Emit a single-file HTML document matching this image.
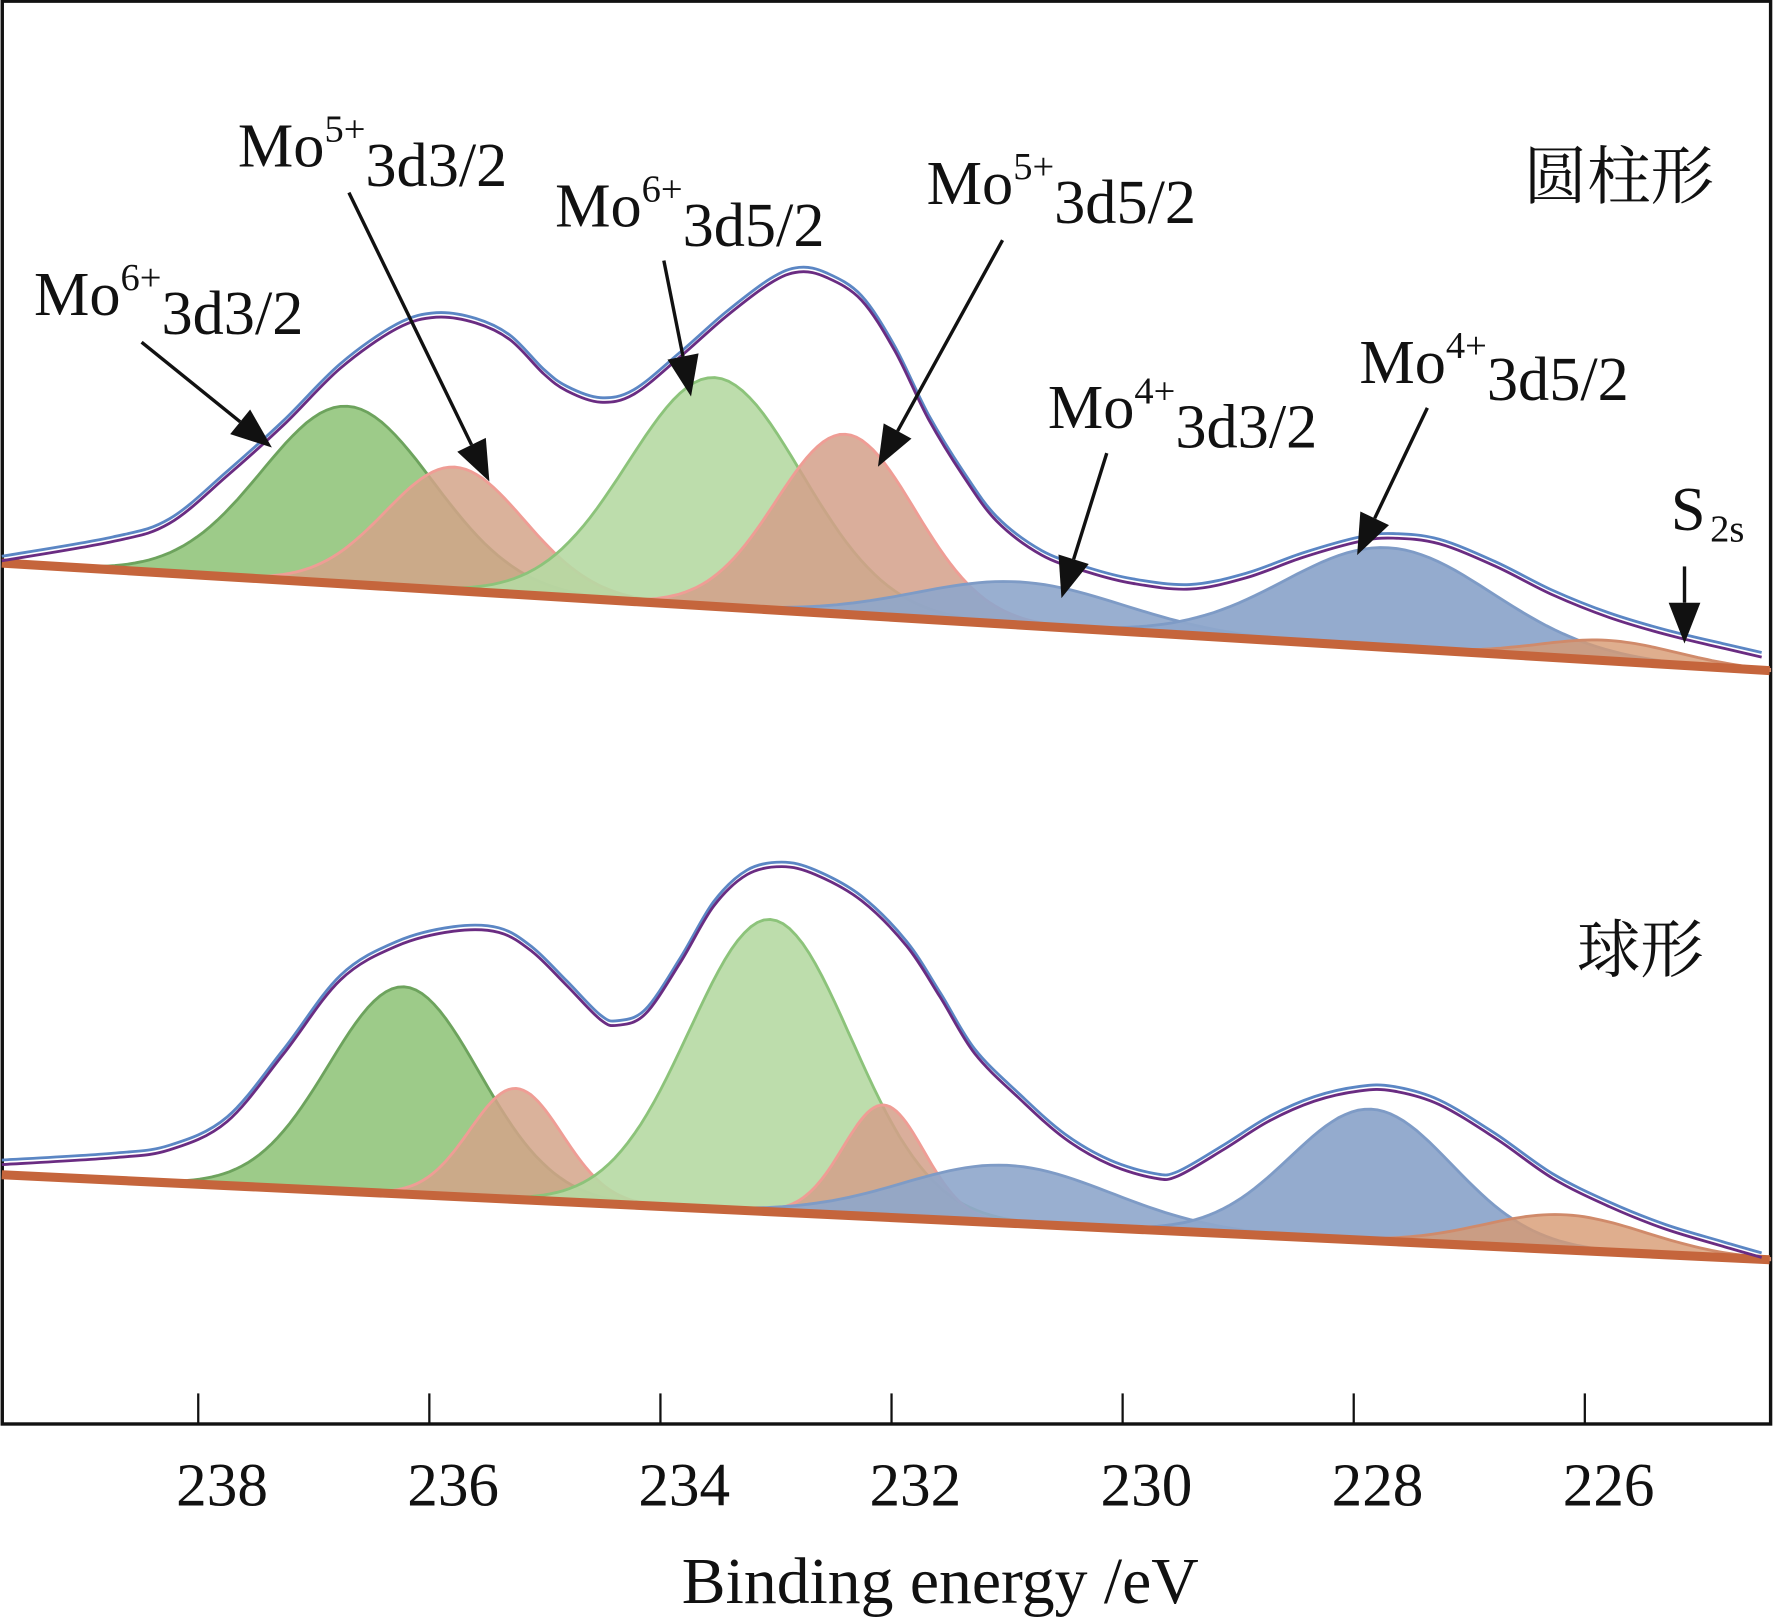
<!DOCTYPE html>
<html><head><meta charset="utf-8"><style>
html,body{margin:0;padding:0;background:#fff}
svg{display:block}
text{font-family:"Liberation Serif","Noto Serif CJK SC",serif;fill:#111}
</style></head><body>
<svg id="chart" width="1774" height="1620" viewBox="0 0 1566 1430" xmlns="http://www.w3.org/2000/svg">
<rect x="2" y="1" width="1561" height="1256" fill="none" stroke="#111" stroke-width="3"/>
<g id="marks"></g>
<g id="axis"></g>
<g id="labels">
<g><text x="30" y="278" font-size="55">Mo<tspan dy="-22" font-size="34">6+</tspan><tspan dy="39" font-size="55">3d3/2</tspan></text></g>
<g><text x="210" y="147" font-size="55">Mo<tspan dy="-22" font-size="34">5+</tspan><tspan dy="39" font-size="55">3d3/2</tspan></text></g>
<g><text x="490" y="200" font-size="55">Mo<tspan dy="-22" font-size="34">6+</tspan><tspan dy="39" font-size="55">3d5/2</tspan></text></g>
<g><text x="818" y="180" font-size="55">Mo<tspan dy="-22" font-size="34">5+</tspan><tspan dy="39" font-size="55">3d5/2</tspan></text></g>
<g><text x="925" y="378" font-size="55">Mo<tspan dy="-22" font-size="34">4+</tspan><tspan dy="39" font-size="55">3d3/2</tspan></text></g>
<g><text x="1200" y="338" font-size="55">Mo<tspan dy="-22" font-size="34">4+</tspan><tspan dy="37" font-size="55">3d5/2</tspan></text></g>
<g><text x="1475" y="468" font-size="55">S<tspan dx="4" dy="10" font-size="34">2s</tspan></text></g>
<text x="1345" y="175" font-size="56">圆柱形</text>
<text x="1392" y="858" font-size="56">球形</text>
</g>
<text x="830" y="1415" font-size="58" text-anchor="middle">Binding energy /eV</text>
</svg>
<script>
// x axis (binding energy, eV), y in arbitrary units
const tickValues = [238, 236, 234, 232, 230, 228, 226];
const tickLabels = ["238", "236", "234", "232", "230", "228", "226"];

// top panel (cylinder) envelope
const topEnergy = [239.70,238.74,238.25,237.75,237.26,236.77,236.28,235.94,235.60,235.30,235.01,234.81,234.52,234.23,233.83,233.44,233.05,232.80,232.56,232.26,231.97,231.68,231.38,231.09,230.70,230.30,229.91,229.42,228.93,228.44,227.95,227.66,227.26,226.77,226.28,225.79,225.30,224.81,224.47];
const topEnvelope = [805,822,838,880,925,975,1010,1020,1015,1000,970,955,945,952,985,1020,1050,1060,1055,1035,990,930,880,840,810,795,785,780,790,808,822,825,820,800,775,755,740,728,720];
const topBaseline = [803, 708]; // at 239.7 eV and 224.4 eV
const topCenters = [236.71, 235.78, 233.53, 232.40, 230.89, 227.70, 225.80];
const topHeights = [157, 109, 202, 159, 38, 88, 18];
const topSigmas = [0.74, 0.6, 0.75, 0.6, 0.9, 0.9, 0.6];

// bottom panel (sphere) envelope
const botEnergy = [239.70,238.74,238.25,237.75,237.26,236.77,236.28,235.79,235.40,235.11,234.81,234.52,234.37,234.13,233.83,233.54,233.25,232.95,232.66,232.26,231.87,231.58,231.28,230.89,230.50,230.11,229.72,229.52,229.13,228.74,228.34,227.95,227.66,227.26,226.77,226.28,225.79,225.30,224.81,224.47];
const botEnvelope = [272,278,285,310,370,435,465,478,477,460,430,400,395,405,450,500,528,535,528,505,465,420,370,330,295,272,260,262,285,310,328,337,337,325,295,260,235,215,200,190];
const botBaseline = [263, 188];
const botCenters = [236.22, 235.25, 233.05, 232.07, 231.0, 227.85, 226.18];
const botHeights = [183, 98, 258, 99, 51, 116, 31];
const botSigmas = [0.65, 0.4, 0.7, 0.35, 0.9, 0.7, 0.7];

const compNames = ["mo6-3d32","mo5-3d32","mo6-3d52","mo5-3d52","mo4-3d32","mo4-3d52","s2s"];
const compFill = ["#98c883","#d4a58a","#b6d9a3","#d4a08a","#8ea6cb","#8ea6cb","#d79a72"];
const compStroke = ["#6da35d","#ef9d95","#8cc37a","#ef9d95","#7e9bc6","#7e9bc6","#d08a6a"];
const compOpacity = [0.95,0.85,0.9,0.85,0.9,0.95,0.8];

const E0 = 239.7, E1 = 224.4;
function xScale(e){ return 175 + (238 - e) * 102; }
function yScale(v){ return 1300 - v; }
const NS = "http://www.w3.org/2000/svg";
const marks = document.getElementById('marks');
const axis = document.getElementById('axis');

function base(b, e){ return b[1] + (e - E1) / (E0 - E1) * (b[0] - b[1]); }

function smoothPath(pts){
  let d = 'M' + pts[0][0].toFixed(1) + ',' + pts[0][1].toFixed(1);
  for (let i = 0; i < pts.length - 1; i++){
    const p0 = pts[Math.max(0, i-1)], p1 = pts[i], p2 = pts[i+1], p3 = pts[Math.min(pts.length-1, i+2)];
    const c1x = p1[0] + (p2[0]-p0[0])/6, c1y = p1[1] + (p2[1]-p0[1])/6;
    const c2x = p2[0] - (p3[0]-p1[0])/6, c2y = p2[1] - (p3[1]-p1[1])/6;
    d += ` C${c1x.toFixed(1)},${c1y.toFixed(1)} ${c2x.toFixed(1)},${c2y.toFixed(1)} ${p2[0].toFixed(1)},${p2[1].toFixed(1)}`;
  }
  return d;
}

function drawPanel(prefix, energy, env, b, centers, heights, sigmas){
  const g = document.createElementNS(NS,'g');
  
  
  marks.appendChild(g);
  for (let i = 0; i < centers.length; i++){
    const lo = centers[i] - 3.2*sigmas[i], hi = centers[i] + 3.2*sigmas[i];
    const pts = [];
    for (let k = 0; k <= 80; k++){
      const e = Math.min(E0, hi) - k * (Math.min(E0, hi) - Math.max(E1, lo)) / 80;
      const v = base(b, e) + heights[i] * Math.exp(-0.5 * Math.pow((e - centers[i]) / sigmas[i], 2));
      pts.push([xScale(e), yScale(v)]);
    }
    let d = 'M' + pts.map(p => p[0].toFixed(1) + ',' + p[1].toFixed(1)).join(' L');
    const eEnd = Math.max(E1, lo), eStart = Math.min(E0, hi);
    d += ' L' + xScale(eEnd).toFixed(1) + ',' + yScale(base(b, eEnd)).toFixed(1) + ' L' + xScale(eStart).toFixed(1) + ',' + yScale(base(b, eStart)).toFixed(1) + 'Z';
    const p = document.createElementNS(NS,'path');
    p.setAttribute('d', d);
    p.setAttribute('fill', compFill[i]);
    p.setAttribute('fill-opacity', compOpacity[i]);
    p.setAttribute('stroke', compStroke[i]);
    p.setAttribute('stroke-width', '2.5');
    
    
    g.appendChild(p);
  }
  const bl = document.createElementNS(NS,'line');
  bl.setAttribute('x1', xScale(E0)); bl.setAttribute('y1', yScale(b[0]));
  bl.setAttribute('x2', xScale(E1)); bl.setAttribute('y2', yScale(b[1]));
  bl.setAttribute('stroke', '#c5653c'); bl.setAttribute('stroke-width', '8');
  
  
  g.appendChild(bl);
  const pts = energy.map((e, i) => [xScale(e), yScale(env[i])]);
  const path = smoothPath(pts);
  const raw = document.createElementNS(NS,'path');
  raw.setAttribute('d', path); raw.setAttribute('fill', 'none');
  raw.setAttribute('stroke', '#5b86c4'); raw.setAttribute('stroke-width', '2.5');
  raw.setAttribute('transform', 'translate(0,-4)');
  
  
  g.appendChild(raw);
  const fit = document.createElementNS(NS,'path');
  fit.setAttribute('d', path); fit.setAttribute('fill', 'none');
  fit.setAttribute('stroke', '#6a2c82'); fit.setAttribute('stroke-width', '2.5');
  
  
  g.appendChild(fit);
}
drawPanel('top', topEnergy, topEnvelope, topBaseline, topCenters, topHeights, topSigmas);
drawPanel('bottom', botEnergy, botEnvelope, botBaseline, botCenters, botHeights, botSigmas);

tickValues.forEach((t, i) => {
  const x = xScale(t);
  const l = document.createElementNS(NS,'line');
  l.setAttribute('x1', x); l.setAttribute('x2', x);
  l.setAttribute('y1', 1230); l.setAttribute('y2', 1257);
  l.setAttribute('stroke', '#111'); l.setAttribute('stroke-width', '2');
  
  
  axis.appendChild(l);
  const tx = document.createElementNS(NS,'text');
  tx.setAttribute('x', x + 21); tx.setAttribute('y', 1329);
  tx.setAttribute('font-size', '54'); tx.setAttribute('text-anchor', 'middle');
  tx.textContent = tickLabels[i];
  
  
  axis.appendChild(tx);
});

// arrows
const arrows = [[125,302,240,395],[308,170,432,425],[586,230,610,350],[885,212,775,412],[977,400,937,528],[1260,360,1198,490],[1487,500,1487,568]];
arrows.forEach(a => {
  const [x1,y1,x2,y2] = a;
  const dx = x2-x1, dy = y2-y1, L = Math.hypot(dx,dy), ux = dx/L, uy = dy/L;
  const bx = x2 - ux*36, by = y2 - uy*36;
  const g = document.createElementNS(NS,'g');
  
  
  const l = document.createElementNS(NS,'line');
  l.setAttribute('x1', x1); l.setAttribute('y1', y1); l.setAttribute('x2', bx); l.setAttribute('y2', by);
  l.setAttribute('stroke', '#111'); l.setAttribute('stroke-width', '3');
  g.appendChild(l);
  const p = document.createElementNS(NS,'polygon');
  p.setAttribute('points', `${x2},${y2} ${bx - uy*14},${by + ux*14} ${bx + uy*14},${by - ux*14}`);
  p.setAttribute('fill', '#111');
  g.appendChild(p);
  marks.appendChild(g);
});
</script>
</body></html>
